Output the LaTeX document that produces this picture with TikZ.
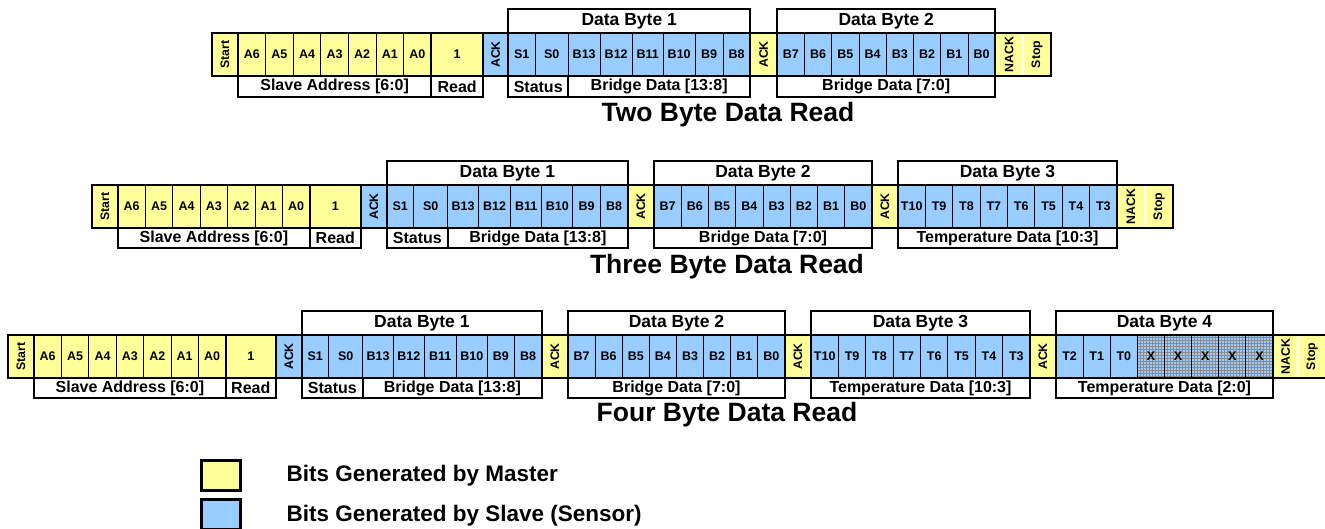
\documentclass[tikz,border=0pt]{standalone}
\usepackage{fontspec}
\setmainfont{Liberation Sans}
\usetikzlibrary{calc,patterns}

\definecolor{mastery}{RGB}{255,255,153}
\definecolor{slaveb}{RGB}{153,204,255}

% rotated bit label (reads bottom to top)
\newcommand\rot[1]{\rotatebox{90}{#1}}

\tikzset{
  heavy/.style={line width=2.4pt},
  thindiv/.style={line width=0.9pt, black},
  cellbase/.style={inner sep=0pt, outer sep=0pt, minimum height=43pt,
    font=\bfseries\fontsize{12.5}{14}\selectfont},
  cell-fy/.style={cellbase, fill=mastery},
  cell-fb/.style={cellbase, fill=slaveb},
  cell-fx/.style={cellbase, fill=slaveb, postaction={pattern=grid, pattern color=black!45}},
  cell-ry/.style={cell-fy, font=\bfseries\fontsize{12.3}{14}\selectfont},
  cell-rb/.style={cell-fb, font=\bfseries\fontsize{12.3}{14}\selectfont},
  cell-st/.style={cell-ry},
  div-fy/.style={thindiv}, div-fb/.style={thindiv}, div-fx/.style={thindiv},
  div-ry/.style={thindiv}, div-rb/.style={thindiv},
  div-st/.style={line width=2pt, white},
  labeltext/.style={inner sep=0pt, font=\bfseries\fontsize{16}{18}\selectfont},
  headtext/.style={inner sep=0pt, font=\bfseries\fontsize{17.5}{20}\selectfont},
  title/.style={anchor=base, font=\bfseries\fontsize{26.5}{30}\selectfont},
  keybox/.style={draw, line width=2.7pt, inner sep=0pt, minimum width=39.3pt, minimum height=30.4pt},
  keytext/.style={anchor=base west, font=\bfseries\fontsize{22.5}{26}\selectfont},
}

% one frame of bit cells: prefix, left x, middle y, list of label/width/kind
\newcommand\bitrow[4]{%
  \foreach \lab/\w/\kind [count=\i, evaluate=\w as \xe using \xs+\w,
      remember=\xe as \xs (initially #2)] in {#4}{%
    \node[cell-\kind, minimum width=\w*1pt] (#1-\i) at ({\xs+\w/2},#3) {\lab};
    \draw[div-\kind] (#1-\i.north west) -- (#1-\i.south west);
  }}
% heavy outline round cells #2..#3
\newcommand\grp[3]{\draw[heavy] (#1-#2.north west) rectangle (#1-#3.south east);}
% field name box under cells #2..#3, height #5
\newcommand\lbl[5]{%
  \draw[heavy] (#1-#2.south west) rectangle ($(#1-#3.south east)+(0,#5)$);
  \node[labeltext] (#1-l#2) at ($(#1-#2.south west)!0.5!(#1-#3.south east)+(0,#5/2)$) {#4};}
% byte caption box above cells #2..#3
\newcommand\hdr[4]{%
  \draw[heavy] ($(#1-#2.north west)+(0,-24)$) rectangle (#1-#3.north east);
  \node[headtext] (#1-h#2) at ($(#1-#2.north west)!0.5!(#1-#3.north east)+(0,-12)$) {#4};}

\begin{document}
\begin{tikzpicture}[x=1pt,y=-1pt]
\useasboundingbox (0,0) rectangle (1325,529);

% ---------------- two byte read ----------------
\bitrow{r1}{212}{54.5}{\rot{Start}/26/ry, A6/27.6/fy, A5/27.6/fy, A4/27.6/fy, A3/27.6/fy,
  A2/27.6/fy, A1/27.6/fy, A0/27.6/fy, 1/52/fy, \rot{ACK}/25/rb,
  S1/27/fb, S0/33/fb, B13/32/fb, B12/32/fb, B11/31/fb, B10/32/fb, B9/28/fb, B8/27/fb,
  \rot{ACK}/27/ry,
  B7/27.25/fb, B6/27.25/fb, B5/27.25/fb, B4/27.25/fb, B3/27.25/fb, B2/27.25/fb, B1/27.25/fb, B0/27.25/fb,
  \rot{NACK}/28/ry, \rot{Stop}/28/st}
\draw[heavy] (r1-1.north west) rectangle (r1-29.south east);
\grp{r1}{2}{8} \grp{r1}{9}{9} \grp{r1}{11}{18} \grp{r1}{20}{27}
\lbl{r1}{2}{8}{Slave Address [6:0]}{21}
\lbl{r1}{9}{9}{Read}{21}
\lbl{r1}{11}{12}{Status}{21}
\lbl{r1}{13}{18}{Bridge Data [13:8]}{21}
\lbl{r1}{20}{27}{Bridge Data [7:0]}{21}
\hdr{r1}{11}{18}{Data Byte 1}
\hdr{r1}{20}{27}{Data Byte 2}
\node[title] (t1) at (728,122) {Two Byte Data Read};

% ---------------- three byte read ----------------
\bitrow{r2}{92}{206.5}{\rot{Start}/26/ry, A6/27.4/fy, A5/27.4/fy, A4/27.4/fy, A3/27.4/fy,
  A2/27.4/fy, A1/27.4/fy, A0/27.4/fy, 1/51/fy, \rot{ACK}/26/rb,
  S1/27/fb, S0/34/fb, B13/30.5/fb, B12/32.5/fb, B11/31/fb, B10/31/fb, B9/27.5/fb, B8/27.7/fb,
  \rot{ACK}/26/ry,
  B7/27.25/fb, B6/27.25/fb, B5/27.25/fb, B4/27.25/fb, B3/27.25/fb, B2/27.25/fb, B1/27.25/fb, B0/27.25/fb,
  \rot{ACK}/26/ry,
  T10/27.375/fb, T9/27.375/fb, T8/27.375/fb, T7/27.375/fb, T6/27.375/fb, T5/27.375/fb, T4/27.375/fb, T3/27.375/fb,
  \rot{NACK}/28/ry, \rot{Stop}/28/st}
\draw[heavy] (r2-1.north west) rectangle (r2-38.south east);
\grp{r2}{2}{8} \grp{r2}{9}{9} \grp{r2}{11}{18} \grp{r2}{20}{27} \grp{r2}{29}{36}
\lbl{r2}{2}{8}{Slave Address [6:0]}{20}
\lbl{r2}{9}{9}{Read}{20}
\lbl{r2}{11}{12}{Status}{20}
\lbl{r2}{13}{18}{Bridge Data [13:8]}{20}
\lbl{r2}{20}{27}{Bridge Data [7:0]}{20}
\lbl{r2}{29}{36}{Temperature Data [10:3]}{20}
\hdr{r2}{11}{18}{Data Byte 1}
\hdr{r2}{20}{27}{Data Byte 2}
\hdr{r2}{29}{36}{Data Byte 3}
\node[title] (t2) at (727,274) {Three Byte Data Read};

% ---------------- four byte read ----------------
\bitrow{r3}{8}{356.5}{\rot{Start}/26/ry, A6/27.4/fy, A5/27.4/fy, A4/27.4/fy, A3/27.4/fy,
  A2/27.4/fy, A1/27.4/fy, A0/27.4/fy, 1/50/fy, \rot{ACK}/26/rb,
  S1/27/fb, S0/34/fb, B13/30.5/fb, B12/31/fb, B11/32/fb, B10/31/fb, B9/27/fb, B8/27.7/fb,
  \rot{ACK}/26/ry,
  B7/27.125/fb, B6/27.125/fb, B5/27.125/fb, B4/27.125/fb, B3/27.125/fb, B2/27.125/fb, B1/27.125/fb, B0/27.125/fb,
  \rot{ACK}/26/ry,
  T10/27.375/fb, T9/27.375/fb, T8/27.375/fb, T7/27.375/fb, T6/27.375/fb, T5/27.375/fb, T4/27.375/fb, T3/27.375/fb,
  \rot{ACK}/26/ry,
  T2/27.125/fb, T1/27.125/fb, T0/27.125/fb, X/27.125/fx, X/27.125/fx, X/27.125/fx, X/27.125/fx, X/27.125/fx,
  \rot{NACK}/25/ry, \rot{Stop}/28/st}
\draw[heavy] (r3-1.north west) rectangle (r3-47.south east);
\grp{r3}{2}{8} \grp{r3}{9}{9} \grp{r3}{11}{18} \grp{r3}{20}{27} \grp{r3}{29}{36} \grp{r3}{38}{45}
\lbl{r3}{2}{8}{Slave Address [6:0]}{20}
\lbl{r3}{9}{9}{Read}{20}
\lbl{r3}{11}{12}{Status}{20}
\lbl{r3}{13}{18}{Bridge Data [13:8]}{20}
\lbl{r3}{20}{27}{Bridge Data [7:0]}{20}
\lbl{r3}{29}{36}{Temperature Data [10:3]}{20}
\lbl{r3}{38}{45}{Temperature Data [2:0]}{20}
\hdr{r3}{11}{18}{Data Byte 1}
\hdr{r3}{20}{27}{Data Byte 2}
\hdr{r3}{29}{36}{Data Byte 3}
\hdr{r3}{38}{45}{Data Byte 4}
\node[title] (t3) at (727,421) {Four Byte Data Read};

% ---------------- key ----------------
\node[keybox, fill=mastery] (keym) at (221,475.5) {};
\node[keytext] (keymt) at (283,481) {Bits Generated by Master};
\node[keybox, fill=slaveb] (keys) at (221,514.5) {};
\node[keytext] (keyst) at (283,521) {Bits Generated by Slave (Sensor)};
\end{tikzpicture}
\end{document}
